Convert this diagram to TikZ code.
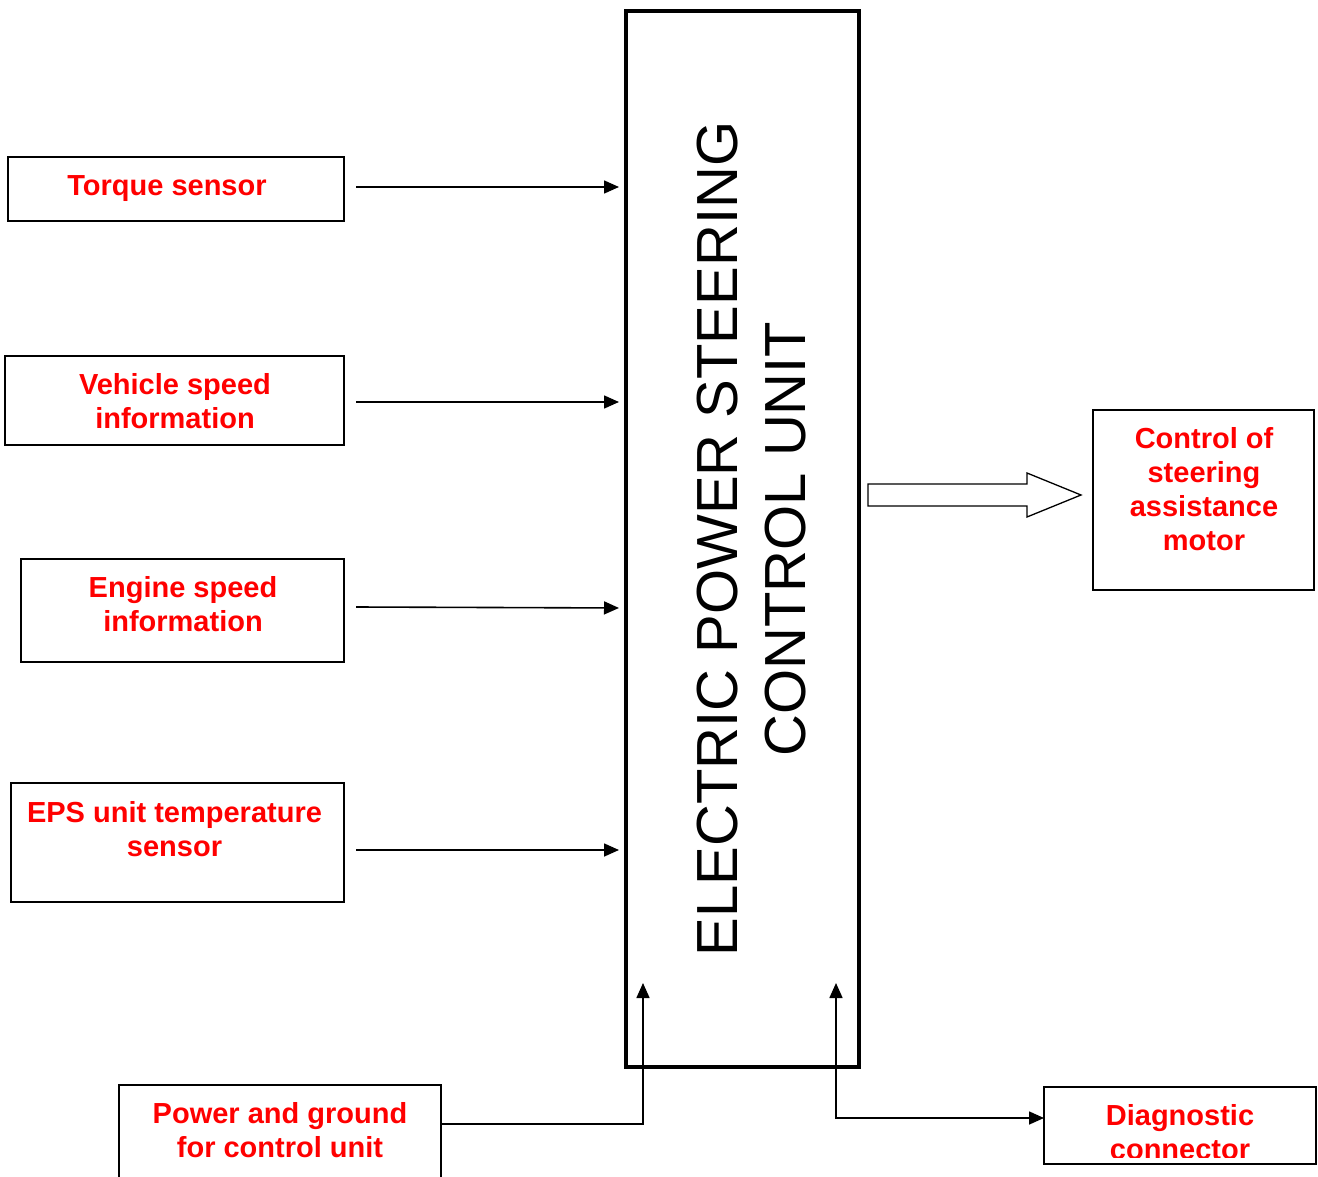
\documentclass[tikz,border=0pt]{standalone}
\usepackage{fontspec}
\setmainfont{Liberation Sans}
\usetikzlibrary{arrows.meta,calc}
\begin{document}
\begin{tikzpicture}[x=1pt,y=-1pt,
  box/.style={draw=black,line width=1.6pt,inner sep=0pt,outer sep=0pt,anchor=center},
  lbl/.style={text=red,font=\bfseries\fontsize{29}{34}\selectfont,align=center,inner sep=0pt,anchor=north},
  arr/.style={line width=1.6pt,-{Triangle[length=15pt,width=13pt]}},
  ln/.style={line width=1.6pt}]
\useasboundingbox (0,0) rectangle (1318,1177);
% main control unit
\node[draw=black,line width=4.5pt,minimum width=233pt,minimum height=1056pt,inner sep=0pt,outer sep=0pt] (main) at (742.5,539) {};
\node[rotate=90,font=\fontsize{58}{68}\selectfont,align=center,inner sep=0pt] (maintxt) at (752,539) {ELECTRIC POWER STEERING\\CONTROL UNIT};
% input boxes
\node[box,minimum width=336pt,minimum height=64pt] (torque) at (176,189) {};
\node[lbl] (torquet) at (167,175) {Torque sensor};
\node[box,minimum width=339pt,minimum height=89pt] (vehicle) at (174.5,400.5) {};
\node[lbl] (vehiclet) at (175,373) {Vehicle speed\\information};
\node[box,minimum width=323pt,minimum height=103pt] (engine) at (182.5,610.5) {};
\node[lbl] (enginet) at (183,576) {Engine speed\\information};
\node[box,minimum width=333pt,minimum height=119pt] (eps) at (177.5,842.5) {};
\node[lbl] (epst) at (174.5,801) {EPS unit temperature\\sensor};
\node[box,minimum width=322pt,minimum height=130pt] (power) at (280,1150) {};
\node[lbl] (powert) at (280,1102) {Power and ground\\for control unit};
% output boxes
\node[box,minimum width=221pt,minimum height=180pt] (motor) at (1203.5,500) {};
\node[lbl] (motort) at (1204,427) {Control of\\steering\\assistance\\motor};
\node[box,minimum width=272pt,minimum height=77pt] (diag) at (1180,1125.5) {};
\begin{scope}
\clip (1046,1089) rectangle (1314,1157);
\node[lbl] (diagt) at (1180,1104) {Diagnostic\\connector};
\end{scope}
% input arrows
\draw[arr,shorten >=7pt] (torque.east |- 0,187) ++(12,0) -- (main.west |- 0,187);
\draw[arr,shorten >=7pt] (vehicle.east |- 0,402) ++(12,0) -- (main.west |- 0,402);
\draw[arr,shorten >=7pt] (engine.east |- 0,607) ++(12,0) -- (main.west |- 0,608);
\draw[arr,shorten >=7pt] (eps.east |- 0,850) ++(12,0) -- (main.west |- 0,850);
% power and diagnostic
\coordinate (ptip) at ($(main.west |- 0,983)+(17,0)$);
\draw[arr] (power.east |- 0,1124) -| (ptip);
\coordinate (dtip) at ($(main.east |- 0,983)+(-23,0)$);
\coordinate (dcorner) at (dtip |- 0,1118);
\draw[arr] ($(dcorner)+(0,1)$) -- (dtip);
\draw[arr] (dcorner) -- (diag.west |- dcorner);
% block arrow to motor
\coordinate (bs) at ($(main.east |- 0,495)+(9,0)$);
\coordinate (bt) at ($(motor.west |- 0,495)+(-12,0)$);
\draw[line width=1.3pt,fill=white] ($(bs)+(0,-11)$) -- ($(bt)+(-54,-11)$) -- ($(bt)+(-54,-22)$) -- (bt) -- ($(bt)+(-54,22)$) -- ($(bt)+(-54,11)$) -- ($(bs)+(0,11)$) -- cycle;
\end{tikzpicture}
\end{document}
